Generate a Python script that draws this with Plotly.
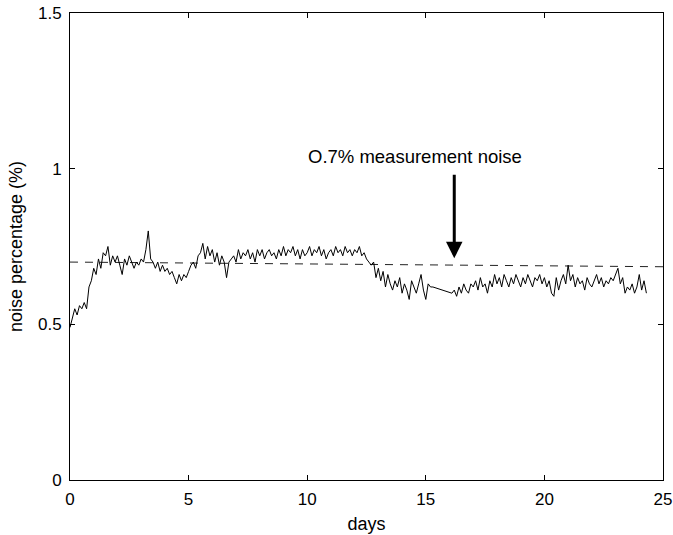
import plotly.graph_objects as go

days = [
    0.0, 0.1, 0.2, 0.3, 0.4, 0.5, 0.6, 0.7, 0.8, 0.9,
    1.0, 1.1, 1.2, 1.3, 1.4, 1.5, 1.6, 1.7, 1.8, 1.9,
    2.0, 2.1, 2.2, 2.3, 2.4, 2.5, 2.6, 2.7, 2.8, 2.9,
    3.0, 3.1, 3.2, 3.3, 3.4, 3.5, 3.6, 3.7, 3.8, 3.9,
    4.0, 4.1, 4.2, 4.3, 4.4, 4.5, 4.6, 4.7, 4.8, 4.9,
    5.0, 5.1, 5.2, 5.3, 5.4, 5.5, 5.6, 5.7, 5.8, 5.9,
    6.0, 6.1, 6.2, 6.3, 6.4, 6.5, 6.6, 6.7, 6.8, 6.9,
    7.0, 7.1, 7.2, 7.3, 7.4, 7.5, 7.6, 7.7, 7.8, 7.9,
    8.0, 8.1, 8.2, 8.3, 8.4, 8.5, 8.6, 8.7, 8.8, 8.9,
    9.0, 9.1, 9.2, 9.3, 9.4, 9.5, 9.6, 9.7, 9.8, 9.9,
    10.0, 10.1, 10.2, 10.3, 10.4, 10.5, 10.6, 10.7, 10.8, 10.9,
    11.0, 11.1, 11.2, 11.3, 11.4, 11.5, 11.6, 11.7, 11.8, 11.9,
    12.0, 12.1, 12.2, 12.3, 12.4, 12.5, 12.6, 12.7, 12.8, 12.9,
    13.0, 13.1, 13.2, 13.3, 13.4, 13.5, 13.6, 13.7, 13.8, 13.9,
    14.0, 14.1, 14.2, 14.3, 14.4, 14.5, 14.6, 14.7, 14.8, 14.9,
    15.0, 15.1, 15.2, 15.3,
    16.1, 16.2, 16.3, 16.4, 16.5, 16.6, 16.7, 16.8, 16.9,
    17.0, 17.1, 17.2, 17.3, 17.4, 17.5, 17.6, 17.7, 17.8, 17.9,
    18.0, 18.1, 18.2, 18.3, 18.4, 18.5, 18.6, 18.7, 18.8, 18.9,
    19.0, 19.1, 19.2, 19.3, 19.4, 19.5, 19.6, 19.7, 19.8, 19.9,
    20.0, 20.1, 20.2, 20.3, 20.4, 20.5, 20.6, 20.7, 20.8, 20.9,
    21.0, 21.1, 21.2, 21.3, 21.4, 21.5, 21.6, 21.7, 21.8, 21.9,
    22.0, 22.1, 22.2, 22.3, 22.4, 22.5, 22.6, 22.7, 22.8, 22.9,
    23.0, 23.1, 23.2, 23.3, 23.4, 23.5, 23.6, 23.7, 23.8, 23.9,
    24.0, 24.1, 24.2, 24.3,
]

noise = [
    0.49, 0.52, 0.55, 0.53, 0.56, 0.55, 0.57, 0.55, 0.62, 0.64,
    0.68, 0.66, 0.71, 0.68, 0.73, 0.72, 0.75, 0.69, 0.72, 0.70,
    0.72, 0.69, 0.66, 0.71, 0.69, 0.72, 0.70, 0.68, 0.70, 0.69,
    0.71, 0.70, 0.74, 0.80, 0.71, 0.70, 0.68, 0.70, 0.67, 0.69,
    0.67, 0.68, 0.66, 0.67, 0.65, 0.63, 0.66, 0.64, 0.66, 0.65,
    0.67, 0.69, 0.70, 0.68, 0.72, 0.73, 0.76, 0.71, 0.75, 0.72,
    0.74, 0.70, 0.73, 0.69, 0.72, 0.70, 0.65, 0.70, 0.71, 0.72,
    0.70, 0.74, 0.71, 0.73, 0.72, 0.74, 0.71, 0.73, 0.70, 0.74,
    0.72, 0.74, 0.71, 0.73, 0.74, 0.72, 0.73, 0.71, 0.74, 0.72,
    0.75, 0.72, 0.74, 0.73, 0.75, 0.72, 0.74, 0.71, 0.74, 0.72,
    0.73, 0.75, 0.72, 0.74, 0.73, 0.75, 0.72, 0.74, 0.71, 0.73,
    0.74, 0.72, 0.75, 0.73, 0.74, 0.72, 0.75, 0.73, 0.74, 0.72,
    0.74, 0.73, 0.75, 0.72, 0.73, 0.71, 0.70, 0.69, 0.70, 0.65,
    0.68, 0.64, 0.67, 0.62, 0.66, 0.63, 0.61, 0.64, 0.62, 0.65,
    0.60, 0.63, 0.61, 0.58, 0.64, 0.62, 0.60, 0.63, 0.66, 0.61,
    0.58, 0.63, 0.62, 0.62,
    0.60, 0.61, 0.59, 0.62, 0.60, 0.63, 0.61, 0.60, 0.63,
    0.62, 0.64, 0.61, 0.65, 0.62, 0.63, 0.60, 0.64, 0.62, 0.66,
    0.63, 0.65, 0.62, 0.66, 0.64, 0.62, 0.65, 0.63, 0.66, 0.64,
    0.62, 0.65, 0.63, 0.66, 0.64, 0.62, 0.65, 0.64, 0.66, 0.63,
    0.65, 0.62, 0.64, 0.60, 0.59, 0.65, 0.61, 0.64, 0.66, 0.63,
    0.69, 0.64, 0.66, 0.62, 0.65, 0.63, 0.64, 0.61, 0.65, 0.63,
    0.62, 0.64, 0.66, 0.63, 0.65, 0.62, 0.64, 0.63, 0.65, 0.64,
    0.66, 0.68, 0.63, 0.65, 0.60, 0.62, 0.61, 0.63, 0.60, 0.62,
    0.66, 0.61, 0.64, 0.60,
]

ref_days = [0, 25]
ref_noise = [0.70, 0.685]

x_ticks = [0, 5, 10, 15, 20, 25]
y_ticks = [0, 0.5, 1, 1.5]
y_tick_labels = ["0", "0.5", "1", "1.5"]

annot_text = "O.7% measurement noise"
arrow_day = 16.2
arrow_tip = 0.712
arrow_tail = 0.985
text_day = 14.55
text_level = 1.038

FONT = "Arial, Liberation Sans, Helvetica, sans-serif"

fig = go.Figure()
fig.add_trace(go.Scatter(x=ref_days, y=ref_noise, mode="lines",
                         line=dict(color="#222222", width=1, dash="8px,7px"),
                         showlegend=False, hoverinfo="skip"))
fig.add_trace(go.Scatter(x=days, y=noise, mode="lines",
                         line=dict(color="black", width=1),
                         showlegend=False))

fig.add_annotation(x=text_day, y=text_level, text=annot_text, showarrow=False,
                   font=dict(family=FONT, size=18.5, color="black"),
                   xanchor="center", yanchor="middle")
fig.add_annotation(x=arrow_day, y=arrow_tip, ax=arrow_day, ay=arrow_tail,
                   xref="x", yref="y", axref="x", ayref="y", text="",
                   showarrow=True, arrowhead=2, arrowsize=1.1, arrowwidth=3,
                   arrowcolor="black")

axis_common = dict(showline=True, linecolor="black", linewidth=1, mirror="ticks",
                   ticks="inside", ticklen=5, tickcolor="black", tickwidth=1,
                   showgrid=False, zeroline=False, automargin=False,
                   ticklabeloverflow="allow",
                   tickfont=dict(family=FONT, size=17, color="black"))

fig.update_xaxes(range=[0, 25], tickvals=x_ticks,
                 title=dict(text="days", font=dict(family=FONT, size=18, color="black"), standoff=8),
                 ticklabelstandoff=4, **axis_common)
fig.update_yaxes(range=[0, 1.5], tickvals=y_ticks, ticktext=y_tick_labels,
                 title=dict(text="noise percentage (%)", font=dict(family=FONT, size=18, color="black"), standoff=10),
                 ticklabelstandoff=4, **axis_common)

fig.update_layout(width=673, height=535,
                  margin=dict(l=70, r=10, t=13, b=55, autoexpand=False),
                  plot_bgcolor="white", paper_bgcolor="white",
                  font=dict(family=FONT, size=17, color="black"))

fig.write_html("out.html", config={"displayModeBar": False},
               post_script="document.body.style.margin='0';document.body.style.overflow='hidden';")
